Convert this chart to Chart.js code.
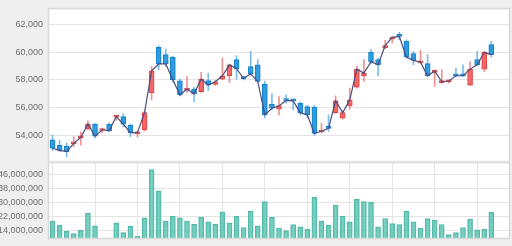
<!DOCTYPE html>
<html>
<head>
<meta charset="utf-8">
<script src="https://cdn.jsdelivr.net/npm/chart.js@4.4.1/dist/chart.umd.min.js"></script>
<style>
  html, body { margin: 0; padding: 0; background: #efefef; }
  canvas { display: block; }
</style>
</head>
<body>
<canvas id="priceChart" width="512" height="161"></canvas>
<canvas id="volumeChart" width="512" height="85"></canvas>
<script>
// dados do grafico (63 sessoes + 2 vazias no fim)
const days = Array.from({ length: 65 }, (_, i) => String(i + 1));

const openPrices = [53670, 53280, 53210, 53380, 53820, 54470, 54810, 54350, 54810, 55300,
    55350, 54740, 54100, 54380, 57080, 60340, 59810, 59610, 57930, 57260,
    57330, 57150, 57950, 57660, 58050, 58290, 59450, 58120, 58960, 59080,
    57690, 56240, 55880, 56540, 56510, 56310, 56070, 56030, 54240, 54670,
    55640, 55230, 56120, 57470, 58290, 59970, 59450, 60290, 60940, 61150,
    60770, 59880, 59220, 59160, 58530, 57800, 57860, 58320, 58330, 57620,
    59450, 58770, 60530];
const highPrices = [54020, 53660, 53450, 53900, 54250, 55050, 54850, 54530, 54880, 55450,
    55560, 54810, 54330, 55810, 58960, 60460, 60220, 59690, 58050, 58240,
    57470, 58530, 58480, 57950, 59570, 59140, 59740, 58240, 60050, 59450,
    57910, 56990, 56790, 56920, 56610, 56410, 56170, 56170, 54870, 55470,
    56840, 55760, 57400, 58990, 59450, 60190, 59570, 60840, 61090, 61420,
    60890, 60050, 60120, 59810, 58720, 58720, 58000, 58850, 59080, 59310,
    60050, 60050, 60770];
const lowPrices = [52890, 52830, 52450, 53180, 53290, 54380, 53800, 54180, 54260, 55080,
    54600, 53900, 53860, 54310, 56550, 58720, 58960, 57820, 56840, 57080,
    56430, 57080, 57230, 57590, 58000, 57800, 58050, 57990, 58360, 57800,
    55250, 55830, 55470, 56310, 55830, 55470, 55250, 54000, 54190, 54290,
    55580, 55160, 55880, 57400, 57880, 59160, 58290, 60220, 60650, 60870,
    59560, 59080, 59160, 58240, 57520, 57760, 57760, 58200, 58240, 57570,
    59010, 58600, 59640];
const closePrices = [53070, 52920, 52830, 53420, 53860, 54810, 53940, 54400, 54330, 55350,
    54810, 54190, 54190, 55640, 58650, 59140, 59140, 58000, 56910, 57330,
    56990, 58050, 57620, 57860, 58290, 59080, 58800, 58090, 58430, 57880,
    55470, 55950, 56120, 56510, 56480, 55630, 55470, 54140, 54290, 54500,
    56480, 55640, 56550, 58770, 58480, 59300, 59080, 60460, 61060, 61130,
    59640, 59400, 59270, 58290, 58620, 57860, 57910, 58290, 58290, 58770,
    59080, 59970, 59810];
// volume em milhoes
const volumeMillions = [19.7, 17.3, 13.8, 12.5, 14.4, 24.0, 16.9, 8, 8, 18.6,
    13.1, 16.7, 11.1, 21.5, 48.9, 36.8, 19.6, 22.3, 21.5, 19.7,
    17.8, 21.9, 19.2, 17.8, 24.9, 18.6, 22.3, 16.0, 25.3, 16.9,
    30.7, 21.7, 15.7, 14.2, 17.7, 16.3, 15.0, 33.2, 19.6, 17.3,
    28.8, 22.4, 19.2, 32.0, 30.7, 30.3, 16.3, 21.1, 18.2, 17.7,
    25.3, 19.2, 15.7, 21.1, 20.1, 17.7, 11.9, 13.1, 16.0, 20.7,
    14.6, 15.0, 24.6];

const priceTicks = [54000, 56000, 58000, 60000, 62000];
const volumeTicks = [14000000, 22000000, 30000000, 38000000, 46000000];

const fontLabel = { family: "'Liberation Sans Narrow', 'Liberation Sans', sans-serif", size: 9 };
const labelColor = '#6e6e6e';
const gridColor = '#e4e4e4';

// fundo branco + borda da area do grafico
const panelBg = {
    id: 'panelBg',
    beforeDraw(chart) {
        const { ctx, chartArea: a } = chart;
        ctx.save();
        ctx.fillStyle = '#ffffff';
        ctx.fillRect(a.left, a.top, a.right - a.left, a.bottom - a.top);
        ctx.restore();
    },
    afterDraw(chart) {
        const { ctx, chartArea: a } = chart;
        ctx.save();
        ctx.strokeStyle = '#d8d8d8';
        ctx.lineWidth = 1.5;
        ctx.strokeRect(a.left - 0.5, a.top - 0.5, a.right - a.left + 1, a.bottom - a.top + 1);
        ctx.restore();
    }
};

// eixo y com largura fixa e sem folga vertical extra
function fixYAxis(scale) {
    scale.width = 49;
    scale.paddingTop = 0;
    scale.paddingBottom = 0;
}

const isUp = openPrices.map((o, i) => closePrices[i] >= o);
const bodyFill = isUp.map(u => u ? 'rgba(244, 98, 98, 0.9)' : 'rgba(38, 152, 222, 0.9)');
const bodyBorder = isUp.map(u => u ? '#de4747' : '#1c82c8');
const wickColor = isUp.map(u => u ? 'rgba(232, 100, 100, 0.7)' : 'rgba(70, 160, 225, 0.7)');

new Chart(document.getElementById('priceChart'), {
    type: 'bar',
    data: {
        labels: days,
        datasets: [
            {
                type: 'line',
                label: 'Fechamento',
                data: closePrices,
                borderColor: '#4b4d7e',
                borderWidth: 1.2,
                pointRadius: 0,
                tension: 0,
                order: 0
            },
            {
                label: 'Corpo',
                data: openPrices.map((o, i) => [o, closePrices[i]]),
                backgroundColor: bodyFill,
                borderColor: bodyBorder,
                borderWidth: 1,
                borderSkipped: false,
                barThickness: 5,
                minBarLength: 2,
                grouped: false,
                order: 1
            },
            {
                label: 'Pavio',
                data: lowPrices.map((l, i) => [l, highPrices[i]]),
                backgroundColor: wickColor,
                borderWidth: 0,
                barThickness: 1,
                grouped: false,
                order: 2
            }
        ]
    },
    options: {
        responsive: false,
        animation: false,
        layout: { padding: { top: 9, right: 3, bottom: 0, left: 0 } },
        plugins: { legend: { display: false }, tooltip: { enabled: false } },
        scales: {
            x: { display: false, offset: true },
            y: {
                min: 52150,
                max: 63100,
                afterBuildTicks: (scale) => { scale.ticks = priceTicks.map(v => ({ value: v })); },
                afterFit: fixYAxis,
                border: { display: false },
                grid: { color: gridColor, drawTicks: false },
                ticks: {
                    font: fontLabel,
                    color: labelColor,
                    padding: 6,
                    callback: (v) => v.toLocaleString('en-US')
                }
            }
        }
    },
    plugins: [panelBg]
});

new Chart(document.getElementById('volumeChart'), {
    type: 'bar',
    data: {
        labels: days,
        datasets: [{
            label: 'Volume',
            data: volumeMillions.map(v => v * 1000000),
            backgroundColor: 'rgba(96, 198, 182, 0.85)',
            borderColor: '#55b9a8',
            borderWidth: 1,
            barThickness: 5
        }]
    },
    options: {
        responsive: false,
        animation: false,
        layout: { padding: { top: 2, right: 3, bottom: 8, left: 0 } },
        plugins: { legend: { display: false }, tooltip: { enabled: false } },
        scales: {
            x: {
                offset: true,
                border: { display: false },
                grid: {
                    offset: false,
                    drawTicks: false,
                    color: (ctx) => (ctx.index % 6 === 0 ? gridColor : 'rgba(0,0,0,0)')
                },
                ticks: { display: false }
            },
            y: {
                min: 10000000,
                max: 52700000,
                afterBuildTicks: (scale) => { scale.ticks = volumeTicks.map(v => ({ value: v })); },
                afterFit: fixYAxis,
                border: { display: false },
                grid: { color: gridColor, drawTicks: false },
                ticks: {
                    font: fontLabel,
                    color: labelColor,
                    padding: 6,
                    callback: (v) => v.toLocaleString('en-US')
                }
            }
        }
    },
    plugins: [panelBg]
});
</script>
</body>
</html>
